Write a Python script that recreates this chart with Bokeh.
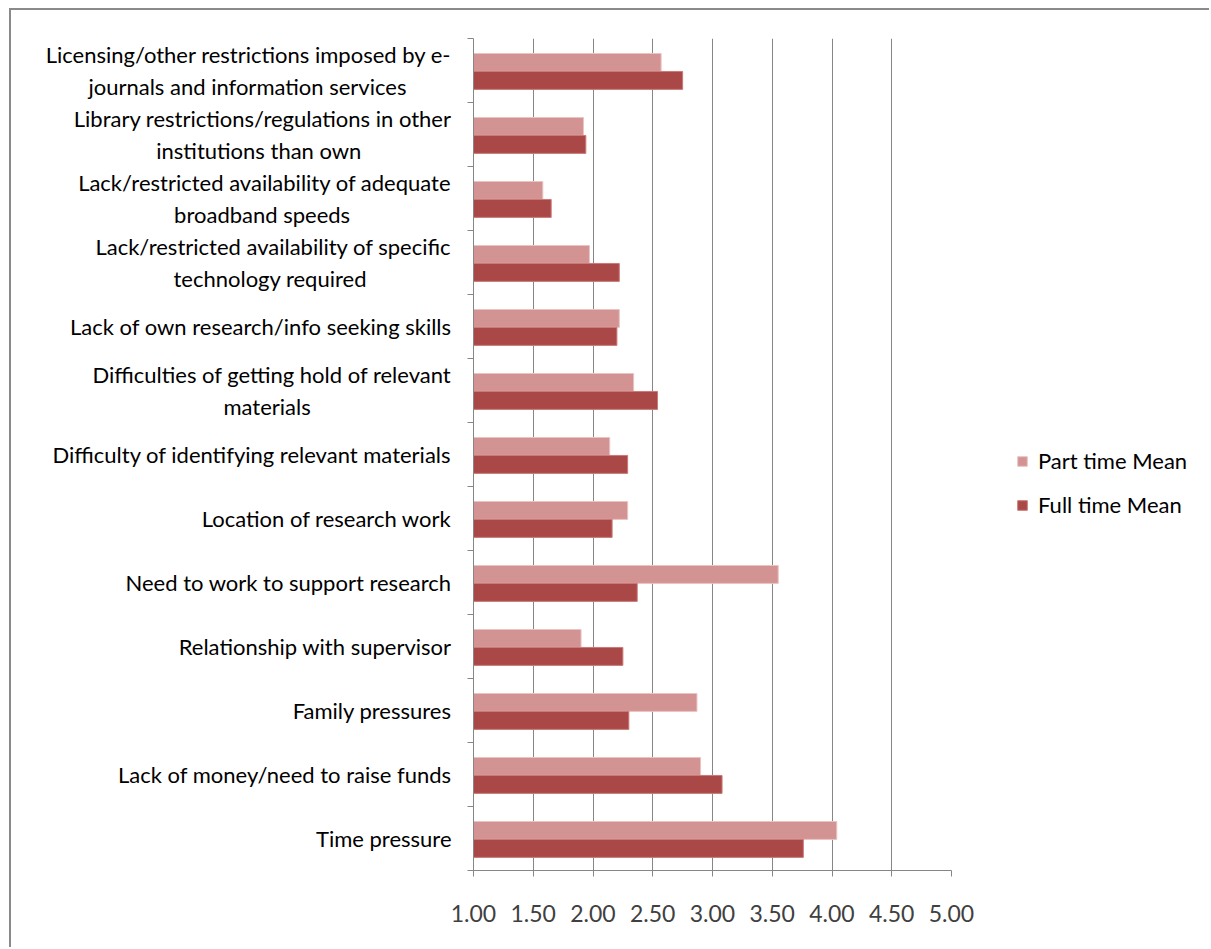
from bokeh.plotting import figure
from bokeh.layouts import row
from bokeh.models import ColumnDataSource, FixedTicker, Range1d, Legend, LegendItem
from bokeh.transform import dodge
from bokeh.embed import file_html
from bokeh.resources import INLINE

categories = [
    "Licensing/other restrictions imposed by e-\njournals and information services",
    "Library restrictions/regulations in other\ninstitutions than own",
    "Lack/restricted availability of adequate\nbroadband speeds",
    "Lack/restricted availability of specific\ntechnology required",
    "Lack of own research/info seeking skills",
    "Difficulties of getting hold of relevant\nmaterials",
    "Difficulty of identifying relevant materials",
    "Location of research work",
    "Need to work to support research",
    "Relationship with supervisor",
    "Family pressures",
    "Lack of money/need to raise funds",
    "Time pressure",
]
part_time = [2.57, 1.92, 1.58, 1.97, 2.22, 2.34, 2.14, 2.29, 3.55, 1.90, 2.87, 2.90, 4.04]
full_time = [2.75, 1.94, 1.65, 2.22, 2.20, 2.54, 2.29, 2.16, 2.37, 2.25, 2.30, 3.08, 3.76]
x_ticks = [1.0, 1.5, 2.0, 2.5, 3.0, 3.5, 4.0, 4.5, 5.0]
series_names = ["Part time Mean", "Full time Mean"]

# layout only: trailing no-break spaces that centre a wrapped second line under the first
second_line_pad = [8, 16, 18, 15, 0, 25, 0, 0, 0, 0, 0, 0, 0]

n = len(categories)
ypos = [n - 1 - i + 0.5 for i in range(n)]
src = ColumnDataSource(dict(y=ypos, cat=categories, part=part_time, full=full_time))

def tick_label(text, pad):
    return text + "\u00a0" * pad if "\n" in text else text

part_color = "#D39392"
full_color = "#A94846"
part_line = "#E8C4C3"
full_line = "#C97A78"
border = "2px solid #8a8a8a"

p = figure(width=970, height=939, output_backend="svg", toolbar_location=None,
           x_range=Range1d(1.0, 5.0), y_range=Range1d(0, n),
           min_border_left=462, min_border_right=30, min_border_top=28, min_border_bottom=79,
           outline_line_color=None)
p.margin = (8, 0, 0, 9)
p.styles = {"border-top": border, "border-left": border}

p.hbar(y=dodge("y", 0.126, range=p.y_range), left=1.0, right="part", height=0.28,
       source=src, fill_color=part_color, line_color=part_line, line_width=1)
p.hbar(y=dodge("y", -0.155, range=p.y_range), left=1.0, right="full", height=0.28,
       source=src, fill_color=full_color, line_color=full_line, line_width=1)

# x axis
p.xaxis.ticker = FixedTicker(ticks=x_ticks)
p.xaxis.major_label_overrides = {t: f"{t:.2f}" for t in x_ticks}
p.xaxis.axis_line_color = "#868686"
p.xaxis.major_tick_line_color = "#868686"
p.xaxis.major_tick_out = 6
p.xaxis.major_tick_in = 0
p.xaxis.minor_tick_line_color = None
p.xaxis.major_label_text_font = "Lato"
p.xaxis.major_label_text_font_size = "23px"
p.xaxis.major_label_text_color = "#404040"
p.xaxis.major_label_standoff = 28

# y axis
p.yaxis.ticker = FixedTicker(ticks=ypos, minor_ticks=list(range(0, n + 1)))
p.yaxis.major_label_overrides = {y: tick_label(c, pad) for y, c, pad in zip(ypos, categories, second_line_pad)}
p.yaxis.axis_line_color = "#868686"
p.yaxis.major_tick_line_color = None
p.yaxis.minor_tick_line_color = "#868686"
p.yaxis.minor_tick_out = 6
p.yaxis.minor_tick_in = 0
p.yaxis.major_label_text_font = "Lato"
p.yaxis.major_label_text_font_size = "22px"
p.yaxis.major_label_text_color = "#000000"
p.yaxis.major_label_text_line_height = 1.17
p.yaxis.major_label_standoff = 16

p.xgrid.grid_line_color = "#868686"
p.xgrid.grid_line_width = 1
p.ygrid.grid_line_color = None

# legend panel (same series drawn out of view so the legend has swatches)
q = figure(width=230, height=939, output_backend="svg", toolbar_location=None,
           x_range=Range1d(0, 1), y_range=Range1d(-3, -2),
           x_axis_location=None, y_axis_location=None,
           min_border_left=0, min_border_right=0, min_border_top=0, min_border_bottom=0,
           outline_line_color=None)
q.margin = (8, 0, 0, 0)
q.styles = {"border-top": border}
q.grid.grid_line_color = None
lp = q.hbar(y="y", left=1.0, right="part", height=0.28, source=src,
            fill_color=part_color, line_color=part_line)
lf = q.hbar(y="y", left=1.0, right="full", height=0.28, source=src,
            fill_color=full_color, line_color=full_line)

legend = Legend(items=[LegendItem(label=series_names[0], renderers=[lp]),
                       LegendItem(label=series_names[1], renderers=[lf])],
                location=(37, 352), orientation="vertical",
                label_text_font="Lato", label_text_font_size="22px", label_text_color="#000000",
                glyph_width=12, glyph_height=12, label_height=22, spacing=17,
                padding=0, margin=0, border_line_color=None, background_fill_alpha=0,
                label_standoff=10)
q.add_layout(legend, "center")

layout = row(p, q)
open("out.html", "w").write(file_html(layout, INLINE))
